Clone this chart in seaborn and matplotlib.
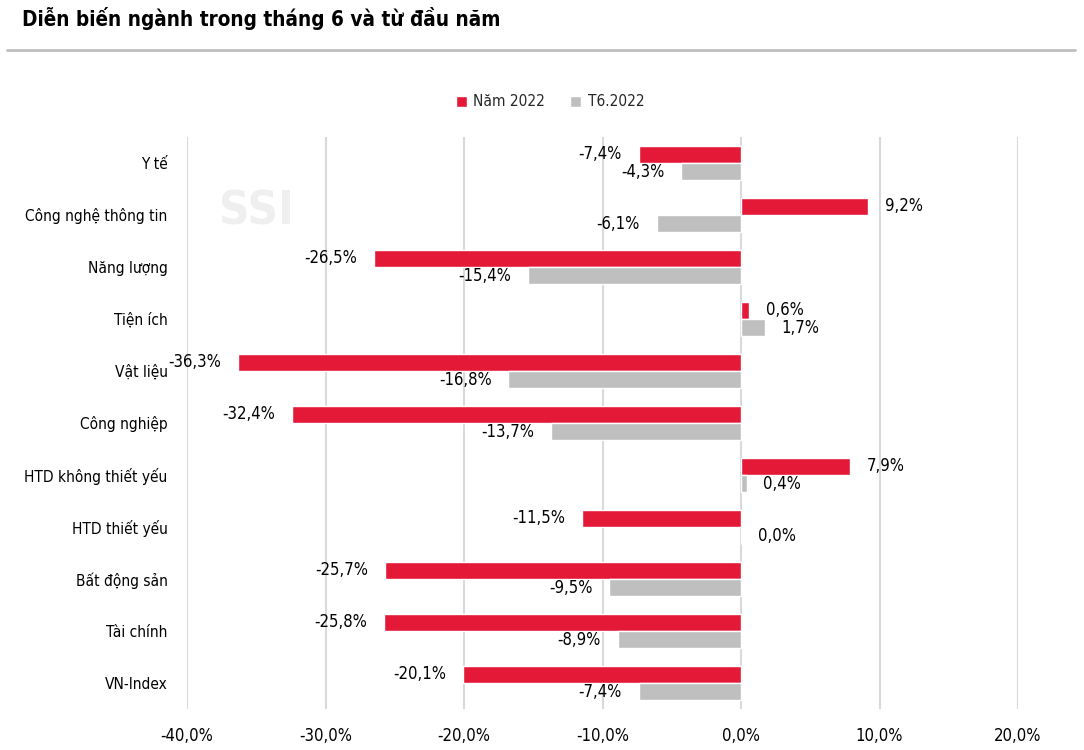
import matplotlib
matplotlib.use("Agg")
import matplotlib.pyplot as plt
import seaborn as sns
import pandas as pd
from matplotlib.lines import Line2D
from matplotlib.ticker import FuncFormatter
from matplotlib import font_manager as fm

categories = ["Y tế", "Công nghệ thông tin", "Năng lượng", "Tiện ích", "Vật liệu",
              "Công nghiệp", "HTD không thiết yếu", "HTD thiết yếu", "Bất động sản",
              "Tài chính", "VN-Index"]
year_2022 = [-7.4, 9.2, -26.5, 0.6, -36.3, -32.4, 7.9, -11.5, -25.7, -25.8, -20.1]
june_2022 = [-4.3, -6.1, -15.4, 1.7, -16.8, -13.7, 0.4, 0.0, -9.5, -8.9, -7.4]
series_names = ["Năm 2022", "T6.2022"]
x_ticks = [-40, -30, -20, -10, 0, 10, 20]

df = pd.DataFrame({
    "cat": categories * 2,
    "val": year_2022 + june_2022,
    "series": [series_names[0]] * len(categories) + [series_names[1]] * len(categories),
})

sns.set_theme(style="white")

# choose a condensed font if one is installed
fonts = fm.fontManager.ttflist
names = {f.name for f in fonts}
STRETCH = "normal"
if "Liberation Sans Narrow" in names:
    FONT = ["Liberation Sans Narrow", "DejaVu Sans"]
    SCALE = 1.0
elif any(f.name == "DejaVu Sans" and str(f.stretch) in ("condensed", "semi-condensed")
         for f in fonts):
    FONT = ["DejaVu Sans"]
    STRETCH = "condensed"
    SCALE = 0.92
else:
    FONT = ["Liberation Sans", "DejaVu Sans"]
    SCALE = 0.9
plt.rcParams["font.family"] = FONT
plt.rcParams["font.stretch"] = STRETCH

fs_cat = 12 * SCALE
fs_num = 13 * SCALE

W, H = 1084, 750
fig = plt.figure(figsize=(W / 100, H / 100), dpi=100)
ax = fig.add_axes([187 / W, 1 - 709 / H, (1018 - 187) / W, (709 - 137) / H])

sns.barplot(data=df, y="cat", x="val", hue="series", orient="h", ax=ax,
            palette=["#E31937", "#BFBFBF"], width=0.66, dodge=True,
            saturation=1, legend=True, errorbar=None)

for cont, vals in zip(ax.containers, [year_2022, june_2022]):
    labels = [f"{v:.1f}%".replace(".", ",") for v in vals]
    ax.bar_label(cont, labels=labels, padding=12, fontsize=fs_num, color="#000000",
                 family=FONT, fontstretch=STRETCH)

ax.set_xlim(-40, 20)
ax.set_xticks(x_ticks)
ax.xaxis.set_major_formatter(FuncFormatter(lambda v, p: f"{v:.1f}%".replace(".", ",")))
ax.grid(axis="x", color="#D9D9D9", linewidth=1.5)
ax.set_axisbelow(True)
for s in ax.spines.values():
    s.set_visible(False)
ax.set_xlabel("")
ax.set_ylabel("")
ax.tick_params(axis="x", length=0, pad=13, labelsize=fs_num, colors="#000000")
ax.tick_params(axis="y", length=0, pad=14, labelsize=fs_cat, colors="#000000")
for t in ax.get_xticklabels() + ax.get_yticklabels():
    t.set_fontstretch(STRETCH)

# legend
handles, lbls = ax.get_legend_handles_labels()
ax.get_legend().remove()
leg = fig.legend(handles, lbls, loc="center", bbox_to_anchor=(550 / W, 1 - 102 / H), ncol=2,
                 frameon=False, prop=fm.FontProperties(family=FONT, size=fs_cat, stretch=STRETCH),
                 handlelength=0.75, handleheight=0.75, handletextpad=0.4, columnspacing=1.6)

# watermark
ax.text(0.084, 0.869, "SSI", transform=ax.transAxes, ha="center", va="center",
        fontsize=34, fontweight="bold", color="#EFEFEF", zorder=0, family=FONT,
        fontstretch=STRETCH)

# title + rule
fig.text(22 / W, 1 - 18 / H, "Diễn biến ngành trong tháng 6 và từ đầu năm",
         fontsize=17 * SCALE * 0.95, fontweight="bold", ha="left", va="center",
         color="#000000", family=FONT, fontstretch=STRETCH)
fig.add_artist(Line2D([7 / W, 1075 / W], [1 - 50 / H, 1 - 50 / H],
                      color="#BFBFBF", linewidth=2, transform=fig.transFigure))

fig.savefig("out.png", dpi=100)
